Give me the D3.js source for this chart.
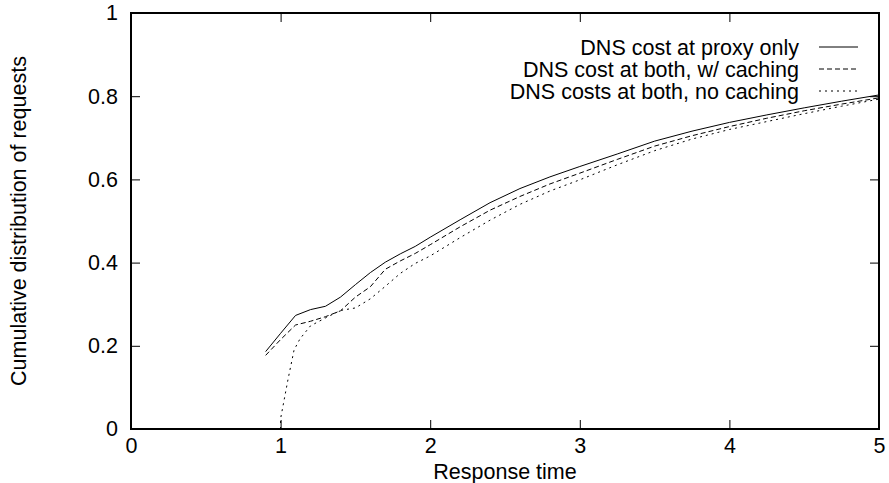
<!DOCTYPE html>
<html>
<head>
<meta charset="utf-8">
<script src="https://cdn.jsdelivr.net/npm/d3@7"></script>
<style>
  body { margin: 0; background: #fff; }
  svg text { font-family: "Liberation Sans", Arial, sans-serif; fill: #000; }
</style>
</head>
<body>
<div id="chart"></div>
<script>
// response time samples (x) and cumulative fraction per series
const proxyX = [0.9, 1.0, 1.1, 1.2, 1.3, 1.4, 1.5, 1.6, 1.7, 1.8, 1.9, 2.0, 2.2, 2.4, 2.6, 2.8, 3.0, 3.25, 3.5, 3.75, 4.0, 4.25, 4.5, 4.75, 5.0];
const proxyY = [0.186, 0.23, 0.273, 0.287, 0.295, 0.317, 0.347, 0.376, 0.401, 0.421, 0.439, 0.461, 0.503, 0.544, 0.578, 0.606, 0.631, 0.661, 0.692, 0.716, 0.737, 0.755, 0.772, 0.788, 0.803];

const cachingX = [0.9, 1.0, 1.1, 1.2, 1.3, 1.4, 1.5, 1.6, 1.7, 1.8, 1.9, 2.0, 2.2, 2.4, 2.6, 2.8, 3.0, 3.25, 3.5, 3.75, 4.0, 4.25, 4.5, 4.75, 5.0];
const cachingY = [0.177, 0.215, 0.25, 0.259, 0.27, 0.284, 0.317, 0.342, 0.384, 0.404, 0.422, 0.443, 0.486, 0.526, 0.559, 0.589, 0.615, 0.648, 0.68, 0.705, 0.727, 0.747, 0.765, 0.781, 0.796];

const noCacheX = [1.0, 1.0, 1.05, 1.09, 1.13, 1.2, 1.3, 1.4, 1.5, 1.6, 1.7, 1.8, 1.9, 2.0, 2.2, 2.4, 2.6, 2.8, 3.0, 3.25, 3.5, 3.75, 4.0, 4.25, 4.5, 4.75, 5.0];
const noCacheY = [0.0, 0.025, 0.12, 0.19, 0.217, 0.248, 0.267, 0.285, 0.291, 0.313, 0.343, 0.374, 0.398, 0.416, 0.46, 0.502, 0.54, 0.572, 0.599, 0.635, 0.669, 0.697, 0.72, 0.739, 0.758, 0.776, 0.793];

const seriesNames = ["DNS cost at proxy only", "DNS cost at both, w/ caching", "DNS costs at both, no caching"];
const xTicks = [0, 1, 2, 3, 4, 5];
const yTicks = [0, 0.2, 0.4, 0.6, 0.8, 1];

const width = 889, height = 483;
const padLeft = 131, padRight = 879, padTop = 13, padBottom = 429;
const dashes = [null, "5,3", "2,4"];
const fontSize = '21.5px';

const svg = d3.select('#chart').append('svg')
    .attr('width', width)
    .attr('height', height);

const x = d3.scaleLinear().domain([0, 5]).range([padLeft, padRight]);
const y = d3.scaleLinear().domain([0, 1]).range([padBottom, padTop]);

// axes, ticks pointing inward, mirrored on top and right
svg.append('g')
    .attr('transform', `translate(0,${padBottom})`)
    .call(d3.axisBottom(x).tickValues(xTicks).tickFormat(d3.format('d'))
        .tickSizeInner(-9).tickSizeOuter(0).tickPadding(9));
svg.append('g')
    .attr('transform', `translate(${padLeft},0)`)
    .call(d3.axisLeft(y).tickValues(yTicks).tickFormat(d => d === 0 || d === 1 ? d : d.toFixed(1))
        .tickSizeInner(-9).tickSizeOuter(0).tickPadding(13));
svg.append('g')
    .attr('transform', `translate(0,${padTop})`)
    .call(d3.axisTop(x).tickValues(xTicks).tickFormat('').tickSizeInner(-9).tickSizeOuter(0));
svg.append('g')
    .attr('transform', `translate(${padRight},0)`)
    .call(d3.axisRight(y).tickValues(yTicks).tickFormat('').tickSizeInner(-9).tickSizeOuter(0));

svg.selectAll('.domain').remove();
svg.selectAll('.tick line').attr('stroke', '#000').attr('stroke-width', 1);
svg.selectAll('.tick text').style('font-size', fontSize);

svg.append('rect')
    .attr('x', padLeft).attr('y', padTop)
    .attr('width', padRight - padLeft).attr('height', padBottom - padTop)
    .attr('fill', 'none').attr('stroke', '#000').attr('stroke-width', 2);

// axis titles
svg.append('text')
    .attr('x', (padLeft + padRight) / 2).attr('y', 479)
    .attr('text-anchor', 'middle').style('font-size', fontSize)
    .text('Response time');
svg.append('text')
    .attr('transform', `translate(26,${(padTop + padBottom) / 2}) rotate(-90)`)
    .attr('text-anchor', 'middle').style('font-size', fontSize)
    .text('Cumulative distribution of requests');

// curves
const line = d3.line().x(d => x(d[0])).y(d => y(d[1]));
const series = [
    d3.zip(proxyX, proxyY),
    d3.zip(cachingX, cachingY),
    d3.zip(noCacheX, noCacheY)
];

series.forEach((pts, i) => {
    svg.append('path')
        .datum(pts)
        .attr('d', line)
        .attr('fill', 'none')
        .attr('stroke', '#000')
        .attr('stroke-width', 1)
        .attr('stroke-dasharray', dashes[i]);
});

// legend
const legend = svg.append('g');
seriesNames.forEach((name, i) => {
    const ly = 47 + i * 22;
    legend.append('text')
        .attr('x', 799).attr('y', ly)
        .attr('dy', '0.35em')
        .attr('text-anchor', 'end')
        .style('font-size', fontSize)
        .text(name);
    legend.append('line')
        .attr('x1', 819).attr('x2', 858)
        .attr('y1', ly).attr('y2', ly)
        .attr('stroke', '#000')
        .attr('stroke-width', 1)
        .attr('stroke-dasharray', dashes[i]);
});
</script>
</body>
</html>
